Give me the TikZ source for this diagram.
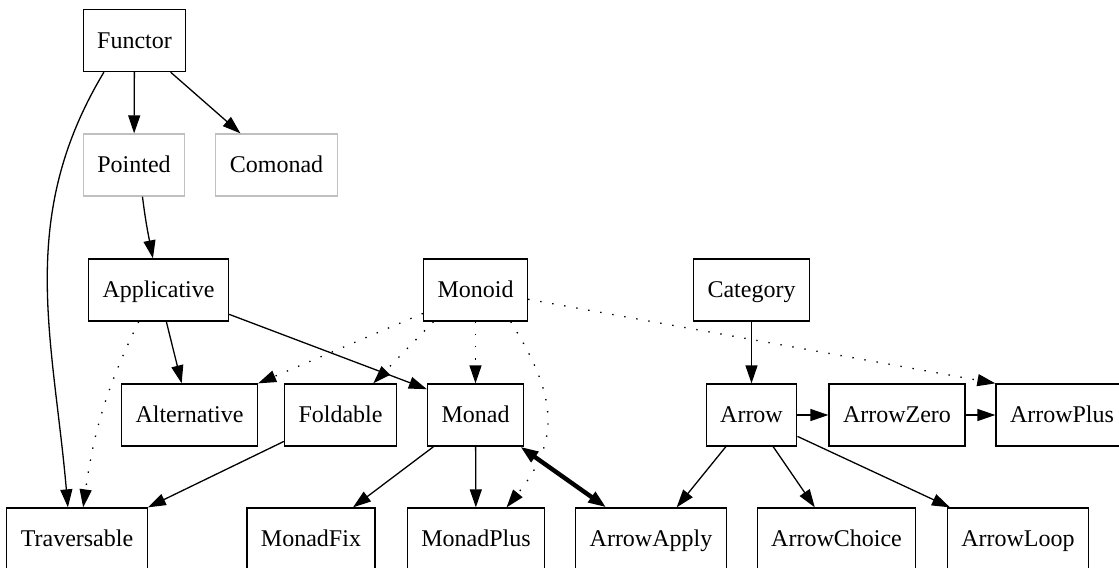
\documentclass[tikz,border=0pt]{standalone}
\usepackage{fontspec}
\setmainfont{Liberation Serif}
\usetikzlibrary{arrows.meta}
\definecolor{fadegray}{RGB}{192,192,192}

\begin{document}
\begin{tikzpicture}[
    x=0.5pt, y=-0.5pt,
    >={Triangle[length=9pt, width=6pt]},
    every node/.style={font=\fontsize{12pt}{14pt}\selectfont},
    cls/.style={rectangle, draw=black, line width=0.65pt, minimum height=31pt,
                inner xsep=7pt, inner ysep=0pt, text height=9pt, text depth=1.5pt},
    faded/.style={cls, draw=fadegray},
    isa/.style={->, line width=0.65pt},
    uses/.style={->, line width=0.65pt, dash pattern=on 0.7pt off 5.4pt},
    same/.style={<->, line width=2.2pt}
]
\useasboundingbox (0,0) rectangle (1119,570);
\clip (0,0) rectangle (1119,567.5);
% Row y-positions
\def\yF{40.5}  \def\yP{165}  \def\yA{290}  \def\yM{415}  \def\yB{539}
% --- Classes
\node[cls]    (functor)     at (134.5,\yF) {Functor};
\node[faded]  (pointed)     at (134,\yP)   {Pointed};
\node[faded]  (comonad)     at (276.5,\yP) {Comonad};
\node[cls]    (applicative) at (158.5,\yA) {Applicative};
\node[cls]    (monoid)      at (475.5,\yA) {Monoid};
\node[cls]    (category)    at (751.5,\yA) {Category};
\node[cls]    (alternative) at (189.5,\yM) {Alternative};
\node[cls]    (foldable)    at (340.5,\yM) {Foldable};
\node[cls]    (monad)       at (475.5,\yM) {Monad};
\node[cls]    (arrow)       at (751.5,\yM) {Arrow};
\node[cls]    (arrowzero)   at (897,\yM)   {ArrowZero};
\node[cls]    (arrowplus)   at (1062,\yM)  {ArrowPlus};
\node[cls]    (traversable) at (77,\yB)    {Traversable};
\node[cls]    (monadfix)    at (311,\yB)   {MonadFix};
\node[cls]    (monadplus)   at (476,\yB)   {MonadPlus};
\node[cls]    (arrowapply)  at (651,\yB)   {ArrowApply};
\node[cls]    (arrowchoice) at (836.5,\yB) {ArrowChoice};
\node[cls]    (arrowloop)   at (1018,\yB)  {ArrowLoop};
% --- Functor side
\draw[isa] (functor) -- (pointed);
\draw[isa] (functor) -- (comonad);
\draw[isa] (functor.-134) to[out=-121, in=95] (traversable.106);
\draw[isa] (pointed.-75) to[out=-83, in=101] (applicative.100);
\draw[isa] (applicative) -- (alternative);
\draw[isa] (applicative.-19) -- (monad.152);
\draw[uses] (applicative.-122) to[out=-116, in=82] (traversable.79);
\draw[isa] (foldable.-155) -- (traversable.north east);
% --- Monoid (dotted)
\draw[uses] (monoid.-156) -- (alternative.north east);
\draw[uses] (monoid.-143) -- (foldable.44);
\draw[uses] (monoid) -- (monad);
\draw[uses] (monoid.-42) to[out=-58, in=51, looseness=1.2] (monadplus.46);
\draw[uses] (monoid.-10) -- (arrowplus.north west);
% --- Monad
\draw[isa] (monad) -- (monadfix);
\draw[isa] (monad) -- (monadplus);
\draw[same] (monad) -- (arrowapply);
% --- Arrow side
\draw[isa] (category) -- (arrow);
\draw[isa] (arrow) -- (arrowzero);
\draw[isa] (arrowzero) -- (arrowplus);
\draw[isa] (arrow) -- (arrowapply);
\draw[isa] (arrow) -- (arrowchoice);
\draw[isa] (arrow) -- (arrowloop);
\end{tikzpicture}
\end{document}
